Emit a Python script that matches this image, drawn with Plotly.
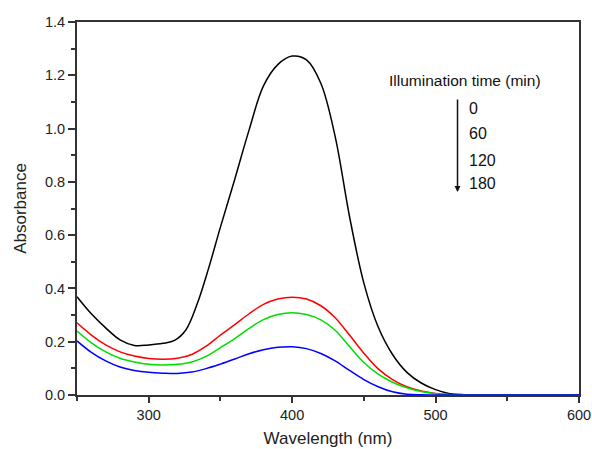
import plotly.graph_objects as go

wavelength = [250, 260, 270, 280, 290, 300, 310, 320, 330, 340, 350, 360, 370, 380, 390,
              400, 410, 420, 430, 440, 450, 460, 470, 480, 490, 500, 510, 520, 540, 560, 580, 600]

wavelength_0 = [250, 260, 270, 280, 290, 300, 310, 318, 326, 334, 342, 350, 360, 370, 380, 390,
                400, 410, 420, 430, 440, 450, 460, 470, 480, 490, 500, 510, 520, 560, 600]
abs_0 = [0.369, 0.305, 0.252, 0.207, 0.186, 0.188, 0.194, 0.205, 0.245, 0.345, 0.48, 0.63, 0.81, 0.995, 1.16, 1.24,
         1.272, 1.258, 1.17, 0.97, 0.67, 0.42, 0.255, 0.152, 0.085, 0.045, 0.02, 0.005, 0.001, 0, 0]
abs_60 = [0.271, 0.225, 0.188, 0.162, 0.146, 0.137, 0.134, 0.138, 0.152, 0.183, 0.225, 0.264, 0.305, 0.34, 0.36,
          0.367, 0.36, 0.335, 0.29, 0.225, 0.157, 0.098, 0.058, 0.031, 0.015, 0.006, 0.002, 0, 0, 0, 0, 0]
abs_120 = [0.24, 0.196, 0.162, 0.138, 0.124, 0.115, 0.113, 0.115, 0.124, 0.145, 0.178, 0.212, 0.25, 0.283, 0.302,
           0.309, 0.302, 0.282, 0.243, 0.182, 0.122, 0.078, 0.048, 0.027, 0.013, 0.005, 0.001, 0, 0, 0, 0, 0]
abs_180 = [0.203, 0.16, 0.128, 0.105, 0.092, 0.085, 0.082, 0.081, 0.086, 0.099, 0.116, 0.135, 0.155, 0.17, 0.179,
           0.181, 0.174, 0.156, 0.128, 0.092, 0.058, 0.031, 0.012, 0.003, 0.001, 0, 0, 0, 0, 0, 0, 0]

series = [("0", wavelength_0, abs_0, "#000000"), ("60", wavelength, abs_60, "#ff0000"),
          ("120", wavelength, abs_120, "#00dd00"), ("180", wavelength, abs_180, "#0000ff")]

legend_title = "Illumination time (min)"
legend_labels = ["0", "60", "120", "180"]

fig = go.Figure()
for name, xs, vals, col in series:
    fig.add_trace(go.Scatter(x=xs, y=vals, mode="lines", name=name,
                             line=dict(color=col, width=1.5, shape="spline", smoothing=1.0)))

font = "Liberation Sans, Arial, sans-serif"
axcol = "#333333"

fig.update_layout(
    width=592, height=449,
    margin=dict(l=77, r=13, t=22, b=54),
    paper_bgcolor="white", plot_bgcolor="white",
    showlegend=False,
    font=dict(family=font, size=14.5, color="#222222"),
    xaxis=dict(range=[250, 600], tickmode="linear", tick0=200, dtick=100, automargin=False,
               ticks="outside", ticklen=6, tickwidth=1.5, tickcolor=axcol,
               minor=dict(tick0=250, dtick=50, ticks="outside", ticklen=4, tickwidth=1.5, tickcolor=axcol),
               showline=True, linewidth=2, linecolor=axcol, mirror=True,
               showgrid=False, zeroline=False,
               title=dict(text="Wavelength (nm)", font=dict(size=17), standoff=10)),
    yaxis=dict(range=[0, 1.4], tickmode="linear", tick0=0, dtick=0.2, tickformat=".1f", automargin=False,
               ticks="outside", ticklen=7, tickwidth=1.5, tickcolor=axcol,
               minor=dict(tick0=0, dtick=0.1, ticks="outside", ticklen=4, tickwidth=1.5, tickcolor=axcol),
               showline=True, linewidth=2, linecolor=axcol, mirror=True,
               showgrid=False, zeroline=False,
               title=dict(text="Absorbance", font=dict(size=17), standoff=14)),
)

fig.add_annotation(x=0.617, y=0.8445, xref="paper", yref="paper", text=legend_title,
                   showarrow=False, xanchor="left", yanchor="middle", font=dict(size=15.5, color="#111111"))

fig.add_annotation(x=0.758, y=0.544, xref="paper", yref="paper", text="",
                   showarrow=True, ax=0, ay=-94, arrowhead=2, arrowsize=0.8, arrowwidth=1.5,
                   arrowcolor="#111111")

label_y = [0.769, 0.702, 0.630, 0.568]
for lab, yy in zip(legend_labels, label_y):
    fig.add_annotation(x=0.776, y=yy, xref="paper", yref="paper", text=lab,
                       showarrow=False, xanchor="left", yanchor="middle",
                       font=dict(size=16, color="#111111"))

fig.write_html("out.html")
